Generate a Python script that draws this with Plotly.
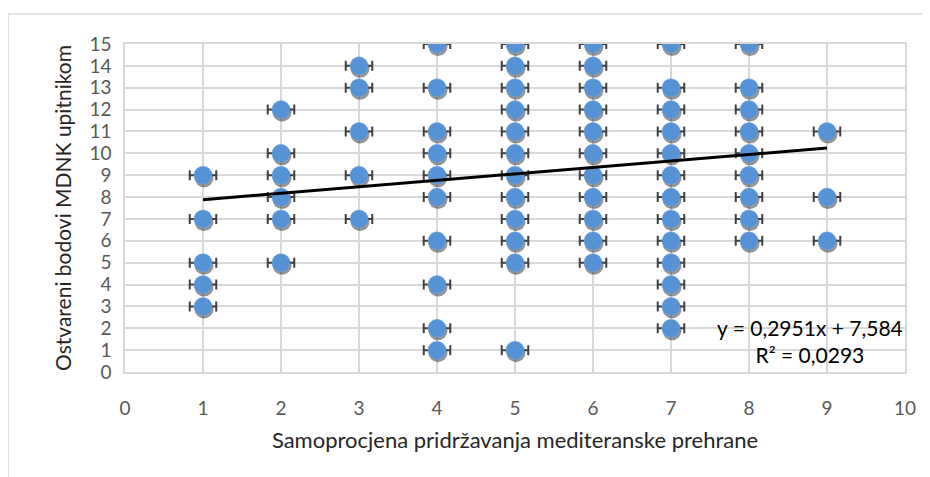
import plotly.graph_objects as go

self_rating = (
    [1] * 5 + [2] * 6 + [3] * 5 + [4] * 10 + [5] * 12 +
    [6] * 11 + [7] * 13 + [8] * 9 + [9] * 3
)
score = (
    [9, 7, 5, 4, 3] +
    [12, 10, 9, 8, 7, 5] +
    [14, 13, 11, 9, 7] +
    [15, 13, 11, 10, 9, 8, 6, 4, 2, 1] +
    [15, 14, 13, 12, 11, 10, 9, 8, 7, 6, 5, 1] +
    [15, 14, 13, 12, 11, 10, 9, 8, 7, 6, 5] +
    [15, 13, 12, 11, 10, 9, 8, 7, 6, 5, 4, 3, 2] +
    [15, 13, 12, 11, 10, 9, 8, 7, 6] +
    [11, 8, 6]
)
x_error = 0.17
trend_slope = 0.2951
trend_intercept = 7.584
trend_x = [1, 9]
trend_label = "y = 0,2951x + 7,584<br>R² = 0,0293"
x_ticks = list(range(0, 11))
y_ticks = list(range(0, 16))

W, H = 930, 477
OFF = 8  # page body margin
L, R, T, B = 125 - OFF, 33, 44 - OFF, 113
plot_w = W - L - R
plot_h = H - T - B

trend_y = [trend_slope * v + trend_intercept for v in trend_x]

fig = go.Figure()

# soft shadow beneath the markers
dx = 1.0 * 10 / plot_w
dy = 2.5 * 15 / plot_h
fig.add_trace(go.Scatter(
    x=[v + dx for v in self_rating], y=[v - dy for v in score],
    mode="markers",
    marker=dict(size=19, color="rgba(20,20,20,0.45)", line=dict(width=0)),
    hoverinfo="skip", showlegend=False,
))

fig.add_trace(go.Scatter(
    x=self_rating, y=score, mode="markers",
    marker=dict(size=18, color="#5592D6", line=dict(width=0.5, color="#6FA6E0")),
    error_x=dict(type="constant", value=x_error, color="#404040",
                 thickness=2, width=5),
    showlegend=False,
))

fig.add_trace(go.Scatter(
    x=trend_x, y=trend_y, mode="lines",
    line=dict(color="black", width=3), showlegend=False,
))

fig.add_annotation(
    x=8.78, y=1.42, xref="x", yref="y", text=trend_label, showarrow=False,
    font=dict(family="Lato, Noto Sans, sans-serif", size=21, color="black"),
    align="center",
)

# chart-area frame (partially visible)
fig.add_shape(
    type="rect", xref="paper", yref="paper",
    x0=(8 - OFF - L) / plot_w, x1=(W + 20 - L) / plot_w,
    y0=(T + plot_h - (H + 20)) / plot_h, y1=(T + plot_h - (14 - OFF)) / plot_h,
    line=dict(color="#D9D9D9", width=1.5), layer="below",
)

fig.update_layout(
    width=W, height=H,
    margin=dict(l=L, r=R, t=T, b=B, autoexpand=False),
    plot_bgcolor="white", paper_bgcolor="white",
    font=dict(family="Lato, Noto Sans, sans-serif"),
    xaxis=dict(
        range=[0, 10], tickvals=x_ticks, showgrid=True, gridcolor="#D9D9D9",
        gridwidth=1.5, zeroline=False, showline=True, linecolor="#D9D9D9",
        linewidth=1.5, mirror=True, ticks="", ticklen=0, automargin=False,
        ticklabelstandoff=18,
        tickfont=dict(size=19, color="#595959"),
        title=dict(text="Samoprocjena pridržavanja mediteranske prehrane",
                   font=dict(size=22, color="#262626"), standoff=15),
    ),
    yaxis=dict(
        range=[0, 15], tickvals=y_ticks, showgrid=True, gridcolor="#D9D9D9",
        gridwidth=1.5, zeroline=False, showline=True, linecolor="#D9D9D9",
        linewidth=1.5, mirror=True, ticks="", automargin=False,
        ticklabelstandoff=8,
        tickfont=dict(size=19, color="#595959"),
        title=dict(text="Ostvareni bodovi MDNK upitnikom",
                   font=dict(size=21, color="#262626"), standoff=12),
    ),
)

fig.write_html("out.html")
